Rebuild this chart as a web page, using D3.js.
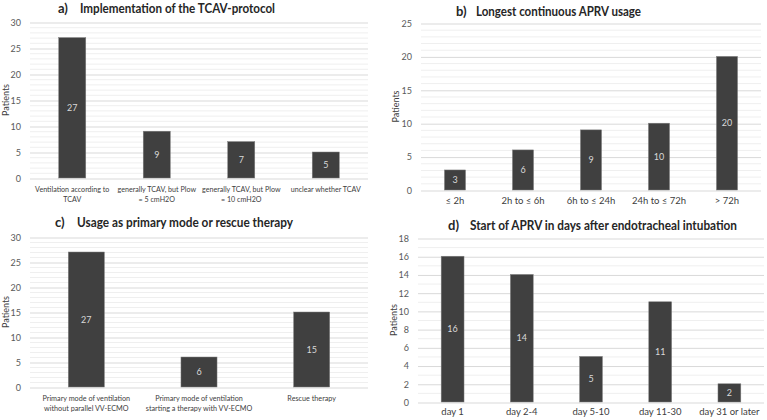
<!DOCTYPE html>
<html>
<head>
<meta charset="utf-8">
<script src="https://cdn.jsdelivr.net/npm/d3@7"></script>
<style>
  html, body { margin: 0; padding: 0; background: #fff; }
  svg { display: block; font-family: Lato, "Open Sans", sans-serif; }
</style>
</head>
<body>
<svg id="chart" width="767" height="420"></svg>
<script>
// ---- Data ----
const letterA = "a)";
const titleA = "Implementation of the TCAV-protocol";
const categoriesA = ["Ventilation according to|TCAV", "generally TCAV, but Plow|= 5 cmH2O", "generally TCAV, but Plow|= 10 cmH2O", "unclear whether TCAV"];
const valuesA = [27, 9, 7, 5];
const ticksA = [0, 5, 10, 15, 20, 25, 30];

const letterB = "b)";
const titleB = "Longest continuous APRV usage";
const categoriesB = ["≤ 2h", "2h to ≤ 6h", "6h to ≤ 24h", "24h to ≤ 72h", "> 72h"];
const valuesB = [3, 6, 9, 10, 20];
const ticksB = [0, 5, 10, 15, 20, 25];

const letterC = "c)";
const titleC = "Usage as primary mode or rescue therapy";
const categoriesC = ["Primary mode of ventilation|without parallel VV-ECMO", "Primary mode of ventilation|starting a therapy with VV-ECMO", "Rescue therapy"];
const valuesC = [27, 6, 15];
const ticksC = [0, 5, 10, 15, 20, 25, 30];

const letterD = "d)";
const titleD = "Start of APRV in days after endotracheal intubation";
const categoriesD = ["day 1", "day 2-4", "day 5-10", "day 11-30", "day 31 or later"];
const valuesD = [16, 14, 5, 11, 2];
const ticksD = [0, 2, 4, 6, 8, 10, 12, 14, 16, 18];

const yLabel = "Patients";

// ---- Layout ----
const svg = d3.select("#chart");
const panels = [
  { letter: letterA, title: titleA, cats: categoriesA, vals: valuesA, ticks: ticksA,
    x0: 30, x1: 368, yTop: 22, yBot: 178, pad: 0.68, labY: 192, ylabX: 9,
    lx: 58, tx: 80, tx2: 275, ty: 13 },
  { letter: letterB, title: titleB, cats: categoriesB, vals: valuesB, ticks: ticksB,
    x0: 421, x1: 761, yTop: 23, yBot: 190, pad: 0.69, labY: 204, ylabX: 399,
    lx: 456, tx: 476, tx2: 641, ty: 16 },
  { letter: letterC, title: titleC, cats: categoriesC, vals: valuesC, ticks: ticksC,
    x0: 30, x1: 368, yTop: 237, yBot: 387, pad: 0.68, labY: 401, ylabX: 9,
    lx: 55, tx: 77, tx2: 293, ty: 227 },
  { letter: letterD, title: titleD, cats: categoriesD, vals: valuesD, ticks: ticksD,
    x0: 418, x1: 764, yTop: 238, yBot: 402, pad: 0.67, labY: 415, ylabX: 397,
    lx: 448, tx: 470, tx2: 737, ty: 230 }
];

const baseLabelSize = 9.5;

panels.forEach(p => {
  const g = svg.append("g");
  const maxT = p.ticks[p.ticks.length - 1];
  const y = d3.scaleLinear().domain([0, maxT]).range([p.yBot, p.yTop]);
  const x = d3.scaleBand().domain(p.cats).range([p.x0, p.x1]).paddingInner(p.pad).paddingOuter(p.pad / 2);

  // minor gridlines every 1 unit
  g.append("g").selectAll("line").data(d3.range(0, maxT + 1).filter(v => !p.ticks.includes(v)))
    .join("line")
    .attr("x1", p.x0).attr("x2", p.x1)
    .attr("y1", d => y(d) + 0.5).attr("y2", d => y(d) + 0.5)
    .attr("stroke", "#efefef").attr("stroke-width", 1);

  // major axis with gridlines
  const axis = d3.axisLeft(y).tickValues(p.ticks).tickSize(-(p.x1 - p.x0)).tickPadding(9);
  const ag = g.append("g").attr("transform", `translate(${p.x0},0.5)`).call(axis);
  ag.select(".domain").remove();
  ag.selectAll(".tick line").attr("stroke", "#d9d9d9");
  ag.selectAll(".tick text").attr("fill", "#595959").style("font-size", "9px").style("font-family", "Lato, sans-serif");

  // bars
  g.append("g").selectAll("rect").data(p.vals)
    .join("rect")
    .attr("x", (d, i) => x(p.cats[i]))
    .attr("width", x.bandwidth())
    .attr("y", d => y(d))
    .attr("height", d => y(0) - y(d))
    .attr("fill", "#404040")
    .attr("stroke", "#7f7f7f").attr("stroke-width", 0.5);

  // value labels
  g.append("g").selectAll("text").data(p.vals)
    .join("text")
    .attr("x", (d, i) => x(p.cats[i]) + x.bandwidth() / 2)
    .attr("y", d => (y(d) + y(0)) / 2 + 3)
    .attr("text-anchor", "middle")
    .attr("fill", "#d9d9d9")
    .style("font-size", "9px")
    .text(d => d);

  // category labels (one text per line), font shrunk per panel to fit its band
  const maxW = x.step() - 6;
  const labels = [];
  p.cats.forEach(c => {
    c.split("|").forEach((l, k) => {
      const t = g.append("text")
        .attr("x", x(c) + x.bandwidth() / 2)
        .attr("y", p.labY + k * 10)
        .attr("text-anchor", "middle")
        .attr("fill", "#404040")
        .style("font-size", baseLabelSize + "px")
        .text(l);
      labels.push(t);
    });
  });
  let fs = baseLabelSize;
  labels.forEach(t => {
    const w = t.node().getComputedTextLength();
    fs = Math.min(fs, baseLabelSize * maxW / w);
  });
  labels.forEach(t => t.style("font-size", fs.toFixed(2) + "px"));

  // y label
  g.append("text")
    .attr("transform", `translate(${p.ylabX},${(p.yTop + p.yBot) / 2}) rotate(-90)`)
    .attr("text-anchor", "middle")
    .attr("fill", "#404040")
    .style("font-size", "9px")
    .text(yLabel);

  // title: letter + text
  g.append("text")
    .attr("x", p.lx).attr("y", p.ty)
    .attr("fill", "#262626")
    .style("font-size", "13px").style("font-weight", "bold")
    .text(p.letter);
  g.append("text")
    .attr("x", p.tx).attr("y", p.ty)
    .attr("fill", "#262626")
    .style("font-size", "13px").style("font-weight", "bold")
    .attr("textLength", p.tx2 - p.tx)
    .attr("lengthAdjust", "spacingAndGlyphs")
    .text(p.title);
});
</script>
</body>
</html>
